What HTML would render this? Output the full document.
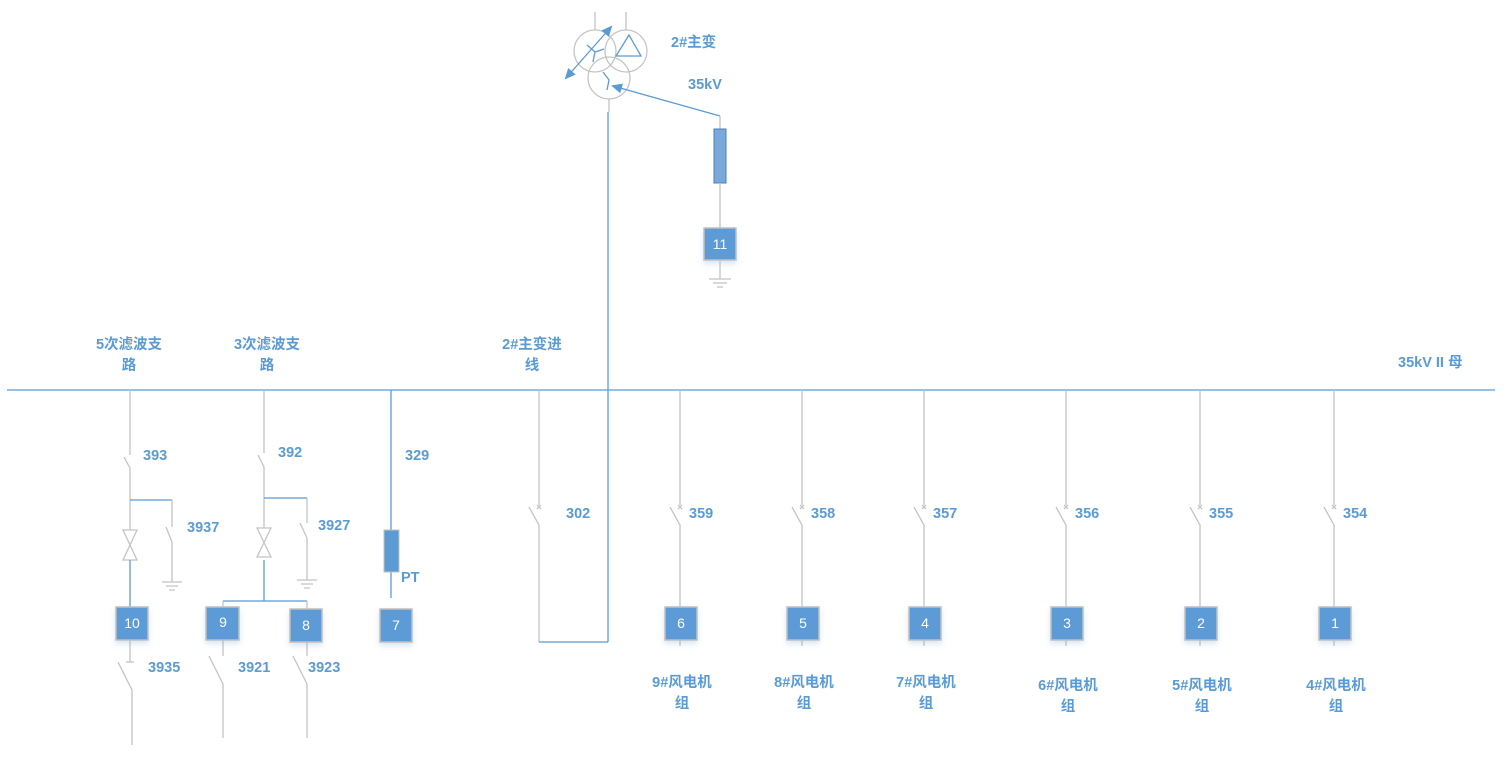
<!DOCTYPE html>
<html><head><meta charset="utf-8"><style>
html,body{margin:0;padding:0;background:#fff;width:1508px;height:764px;overflow:hidden}
svg text{font-family:"Liberation Sans","Noto Sans CJK SC",sans-serif}
.lb{fill:#5b9bd5;font-weight:bold;font-size:14.5px}
.bx{fill:#5b9bd5;stroke:#c0c0c0;stroke-width:1.5}
.bt{fill:#fff;font-size:14px;text-anchor:middle}
.g{stroke:#c4c4c4;stroke-width:1.3;fill:none}
.b{stroke:#5b9bd5;stroke-width:1.3;fill:none}
</style></head><body>
<svg id="d" width="1508" height="764" viewBox="0 0 1508 764">
<defs>
<filter id="sh" x="-30%" y="-30%" width="160%" height="160%"><feDropShadow dx="0" dy="3" stdDeviation="3" flood-color="#5b9bd5" flood-opacity="0.25"/></filter>
<marker id="ah" markerWidth="12" markerHeight="12" refX="9" refY="6" orient="auto" markerUnits="userSpaceOnUse"><path d="M0,1 L11,6 L0,11z" fill="#5b9bd5"/></marker>
<marker id="ah2" markerWidth="12" markerHeight="12" refX="9" refY="6" orient="auto-start-reverse" markerUnits="userSpaceOnUse"><path d="M0,1 L11,6 L0,11z" fill="#5b9bd5"/></marker>
</defs>
<line x1="7" y1="390" x2="1495" y2="390" class="b"/>
<text x="1398" y="367" class="lb">35kV II 母</text>

<g>
<line x1="595" y1="12" x2="595" y2="30" class="g"/><line x1="626" y1="12" x2="626" y2="30" class="g"/>
<circle cx="595" cy="51" r="21" class="g"/><circle cx="626" cy="51" r="21" class="g"/><circle cx="609" cy="78" r="21" class="g"/>
<polygon points="629,35 616,56 641,56" class="b"/>
<path d="M587,45 L595,52 L604,49 M595,52 L593,62" class="b"/>
<path d="M603,72 L609,80 L607,90" class="b"/>
<line x1="566" y1="78" x2="611" y2="27" class="b" marker-end="url(#ah2)" marker-start="url(#ah2)"/>
<line x1="720" y1="116" x2="613" y2="86" class="b" marker-end="url(#ah)"/>
<line x1="609" y1="99" x2="609" y2="112" class="g"/>
</g>
<text x="671" y="47" class="lb">2#主变</text>
<text x="688" y="89" class="lb">35kV</text>
<line x1="720" y1="116" x2="720" y2="129" class="g"/>
<rect x="714" y="129" width="12" height="54" fill="#7aa8da" stroke="#4a7fb8"/>
<line x1="720" y1="183" x2="720" y2="228" class="g"/>
<g filter="url(#sh)"><rect x="704" y="228" width="32" height="32" class="bx"/></g>
<text x="720" y="249" class="bt">11</text>
<g class="g"><line x1="720" y1="260" x2="720" y2="279"/><line x1="709" y1="279" x2="731" y2="279"/><line x1="713" y1="283" x2="727" y2="283"/><line x1="717" y1="287" x2="723" y2="287"/></g>

<line x1="608" y1="112" x2="608" y2="642" class="b"/>
<path d="M539,390 V505 M529,507 L539,525 V642" class="g"/>
<path d="M537,505 l4,4 M541,505 l-4,4" class="g"/>
<line x1="539" y1="642" x2="608" y2="642" class="b"/>
<text x="566" y="518" class="lb">302</text>
<text x="532" y="349" class="lb" text-anchor="middle">2#主变进</text>
<text x="532" y="370" class="lb" text-anchor="middle">线</text>

<g>
<path d="M130,390 V455 M124,457 L130,468 V530" class="g"/>
<line x1="130" y1="500" x2="172" y2="500" class="b"/>
<path d="M172,500 V527 M166,527 L172,542 V582" class="g"/>
<path d="M162,582 h20 M166,586 h12 M169,590 h6" class="g"/>
<path d="M123,530 h14 L123,560 h14 z" class="g"/>
<line x1="130" y1="560" x2="130" y2="607" class="b"/>
<path d="M130,640 V662 M126,662 h8 M118,662 L132,690 V745" class="g"/>
</g>
<g filter="url(#sh)"><rect x="116" y="607" width="32" height="33" class="bx"/></g>
<text x="132" y="628" class="bt">10</text>
<text x="143" y="460" class="lb">393</text><text x="187" y="532" class="lb">3937</text><text x="148" y="672" class="lb">3935</text>
<text x="129" y="349" class="lb" text-anchor="middle">5次滤波支</text><text x="129" y="370" class="lb" text-anchor="middle">路</text>

<g>
<path d="M264,390 V453 M258,455 L264,467 V528" class="g"/>
<line x1="264" y1="498" x2="307" y2="498" class="b"/>
<path d="M307,498 V523 M300,523 L307,538 V580" class="g"/>
<path d="M297,580 h20 M301,584 h12 M304,588 h6" class="g"/>
<path d="M257,528 h14 L257,557 h14 z" class="g"/>
<path d="M264,560 V601 M223,601 H307" class="b"/>
<path d="M223,601 V607 M307,601 V609" class="g"/>
<path d="M223,640 V656 M209,656 L223,684 V738" class="g"/>
<path d="M307,642 V656 M293,656 L307,684 V738" class="g"/>
</g>
<g filter="url(#sh)"><rect x="206" y="607" width="33" height="33" class="bx"/></g>
<text x="223" y="627" class="bt">9</text>
<g filter="url(#sh)"><rect x="290" y="609" width="32" height="33" class="bx"/></g>
<text x="306" y="630" class="bt">8</text>
<text x="278" y="457" class="lb">392</text><text x="318" y="530" class="lb">3927</text>
<text x="238" y="672" class="lb">3921</text><text x="308" y="672" class="lb">3923</text>
<text x="267" y="349" class="lb" text-anchor="middle">3次滤波支</text><text x="267" y="370" class="lb" text-anchor="middle">路</text>

<path d="M391,390 V530 M391,572 V598" class="b"/>
<rect x="384" y="530" width="15" height="42" fill="#5b9bd5" stroke="#c0c0c0"/>
<g filter="url(#sh)"><rect x="380" y="609" width="32" height="33" class="bx"/></g>
<text x="396" y="630" class="bt">7</text>
<text x="405" y="460" class="lb">329</text><text x="401" y="582" class="lb">PT</text>

<g id="feeders"></g>
</svg>
<script>
const feederX=[680,802,924,1066,1200,1334];
const feederSw=["359","358","357","356","355","354"];
const feederBox=["6","5","4","3","2","1"];
const feederName=["9#风电机","8#风电机","7#风电机","6#风电机","5#风电机","4#风电机"];
const feederLabY=[687,687,687,690,690,690];
const NS="http://www.w3.org/2000/svg";
const g=document.getElementById('feeders');
function mk(t,a,p){const e=document.createElementNS(NS,t);for(const k in a)e.setAttribute(k,a[k]);(p||g).appendChild(e);return e;}
feederX.forEach((x,i)=>{
 const grp=mk('g',{});
 
 
 mk('path',{d:`M${x},390 V505 M${x-10},507 L${x},525 V607 M${x-2},505 l4,4 M${x+2},505 l-4,4 M${x},640 V646`,class:'g'},grp);
 const r=mk('rect',{x:x-15,y:607,width:32,height:33,class:'bx',filter:'url(#sh)'},grp);
 
 
 const t=mk('text',{x:x+1,y:628,class:'bt'},grp);t.textContent=feederBox[i];
 const s=mk('text',{x:x+9,y:518,class:'lb'},grp);s.textContent=feederSw[i];
 const n=mk('text',{x:x+2,y:feederLabY[i],class:'lb','text-anchor':'middle'},grp);n.textContent=feederName[i];
 
 
 const n2=mk('text',{x:x+2,y:feederLabY[i]+21,class:'lb','text-anchor':'middle'},grp);n2.textContent='组';
});
</script>
</body></html>
